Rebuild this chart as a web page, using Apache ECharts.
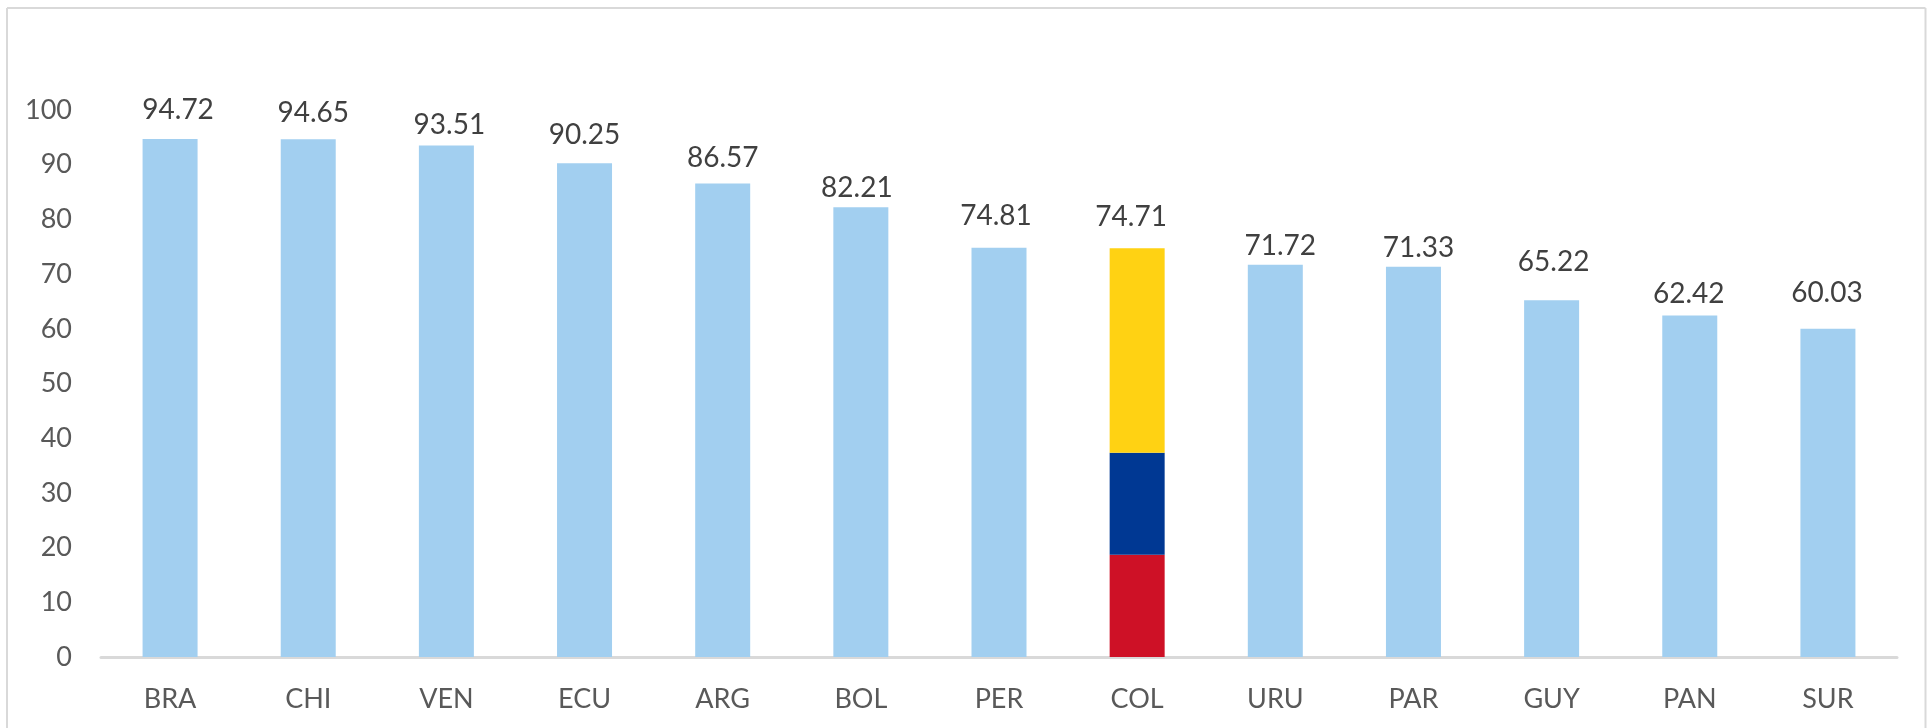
<!DOCTYPE html>
<html>
<head>
<meta charset="utf-8">
<style>html,body{margin:0;padding:0;background:#fff}#c{width:1931px;height:728px}</style>
<script src="https://cdn.jsdelivr.net/npm/echarts@6/dist/echarts.min.js"></script>
</head>
<body>
<div id="c"></div>
<script>
const categories = ['BRA','CHI','VEN','ECU','ARG','BOL','PER','COL','URU','PAR','GUY','PAN','SUR'];
const mainValues = [94.72,94.65,93.51,90.25,86.57,82.21,74.81,null,71.72,71.33,65.22,62.42,60.03];
const colRed    = [null,null,null,null,null,null,null,18.68,null,null,null,null,null];
const colBlue   = [null,null,null,null,null,null,null,18.68,null,null,null,null,null];
const colYellow = [null,null,null,null,null,null,null,37.35,null,null,null,null,null];
const colTotalLabel = '74.71';
const fontName = 'Lato';
const labelStyle = {show:true,position:'top',distance:13,fontFamily:fontName,fontSize:28,color:'#404040'};
const chart = echarts.init(document.getElementById('c'),null,{renderer:'canvas'});
// The reference's data labels were dragged by hand; these nudges reproduce that placement.
const nudges = [[8,-2],[5,1],[3,6],[0,-1],[0,2],[-4,8],[-3,-5],[-6,-4],[5,8],[5,8],[2,-11],[-1,5],[-1,-9]];
const nudged = (arr) => arr.map((v,i)=> v==null ? null : {value:v,label:{offset:nudges[i]}});
chart.setOption({
  animation:false,
  backgroundColor:'#fff',
  grid:{left:101,top:110,width:1796,height:547,containLabel:false},
  graphic:[
    {type:'line',silent:true,shape:{x1:7,y1:8,x2:1925.5,y2:8},style:{stroke:'#D9D9D9',lineWidth:2}},
    {type:'line',silent:true,shape:{x1:7,y1:8,x2:7,y2:728},style:{stroke:'#D9D9D9',lineWidth:2}},
    {type:'line',silent:true,shape:{x1:1925.5,y1:8,x2:1925.5,y2:728},style:{stroke:'#D9D9D9',lineWidth:2}}
  ],
  xAxis:{type:'category',data:categories,
    axisLine:{show:true,lineStyle:{color:'#D9D9D9',width:3}},
    axisTick:{show:false},
    axisLabel:{color:'#595959',fontFamily:fontName,fontSize:27,margin:29}
  },
  yAxis:{type:'value',min:0,max:100,interval:10,
    axisLine:{show:false},axisTick:{show:false},splitLine:{show:false},
    axisLabel:{color:'#595959',fontFamily:fontName,fontSize:27,margin:29}
  },
  series:[
    {name:'Main',type:'bar',stack:'s',barWidth:55,data:nudged(mainValues),itemStyle:{color:'#A2CFF0'},label:labelStyle},
    {name:'Red',type:'bar',stack:'s',barWidth:55,data:colRed,itemStyle:{color:'#CE1126'}},
    {name:'Blue',type:'bar',stack:'s',barWidth:55,data:colBlue,itemStyle:{color:'#003893'}},
    {name:'Yellow',type:'bar',stack:'s',barWidth:55,data:nudged(colYellow),itemStyle:{color:'#FFD213'},
      label:Object.assign({},labelStyle,{formatter:()=>colTotalLabel})}
  ]
});
</script>
</body>
</html>
